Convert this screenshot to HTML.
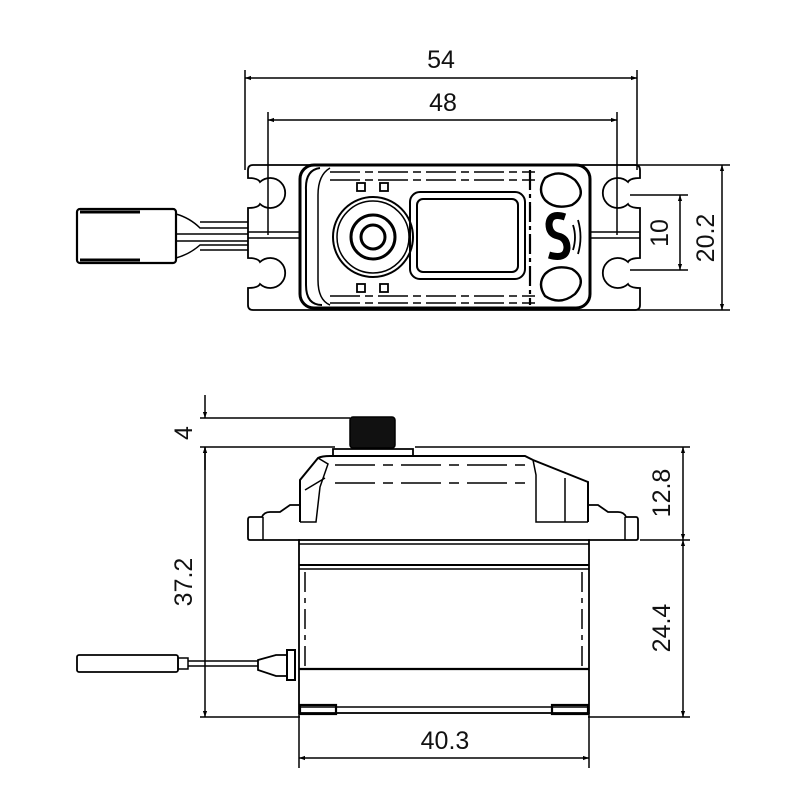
<!DOCTYPE html>
<html><head><style>html,body{margin:0;padding:0;background:#fff}svg{display:block}</style></head><body>
<svg width="800" height="800" viewBox="0 0 800 800" xmlns="http://www.w3.org/2000/svg" font-family="Liberation Sans, sans-serif">
<defs>
<marker id="a" viewBox="0 0 10 10" refX="10" refY="5" markerWidth="11" markerHeight="6" orient="auto-start-reverse" markerUnits="userSpaceOnUse"><path d="M0,1.5 L10,5 L0,8.5z" fill="#000"/></marker>
</defs>
<g fill="none" stroke="#000" stroke-width="1.5">
<line x1="245" y1="70" x2="245" y2="170"/><line x1="637" y1="70" x2="637" y2="170"/>
<line x1="245" y1="78" x2="637" y2="78" marker-start="url(#a)" marker-end="url(#a)"/>
<line x1="268" y1="112" x2="268" y2="235"/><line x1="617" y1="112" x2="617" y2="235"/>
<line x1="268" y1="120" x2="617" y2="120" marker-start="url(#a)" marker-end="url(#a)"/>
<line x1="620" y1="165" x2="730" y2="165"/><line x1="620" y1="310" x2="730" y2="310"/>
<line x1="630" y1="195" x2="688" y2="195"/><line x1="630" y1="270" x2="688" y2="270"/>
<line x1="680" y1="195" x2="680" y2="270" marker-start="url(#a)" marker-end="url(#a)"/>
<line x1="722" y1="165" x2="722" y2="310" marker-start="url(#a)" marker-end="url(#a)"/>

<path d="M253,165 H635 Q640,165 640,170 V178 Q630,178 628,182 A15,15 0 1 0 628,204 Q630,208 640,208 V258 Q630,258 628,262 A15,15 0 1 0 628,284 Q630,288 640,288 V305 Q640,310 635,310 H253 Q248,310 248,305 V288 Q258,288 260,284 A15,15 0 1 0 260,262 Q258,258 248,258 V208 Q258,208 260,204 A15,15 0 1 0 260,182 Q258,178 248,178 V170 Q248,165 253,165Z" stroke-width="1.8"/>
<line x1="248" y1="232" x2="300" y2="232"/><line x1="248" y1="238" x2="300" y2="238"/>
<line x1="590" y1="232" x2="640" y2="232"/><line x1="590" y1="238" x2="640" y2="238"/>
<rect x="300" y="165" width="290" height="143" rx="14" stroke-width="3"/>
<path d="M320,168 Q305,170 306,190 V285 Q306,305 322,305" stroke-width="2"/>
<path d="M330,168 Q318,175 318,195 V280 Q318,300 330,305"/>
<line x1="330" y1="180" x2="535" y2="180" stroke-dasharray="30,5,8,5"/>
<line x1="330" y1="296" x2="535" y2="296" stroke-dasharray="30,5,8,5"/>
<line x1="330" y1="172" x2="535" y2="172" stroke-dasharray="30,5,8,5"/>
<line x1="330" y1="303" x2="535" y2="303" stroke-dasharray="30,5,8,5"/>
<line x1="530" y1="170" x2="530" y2="305" stroke-width="2.2" stroke-dasharray="20,4,4,4"/>
<circle cx="373" cy="237" r="40" stroke-width="2"/>
<circle cx="373" cy="237" r="36"/>
<circle cx="373" cy="237" r="22" stroke-width="3"/>
<circle cx="373" cy="237" r="12" stroke-width="3"/>
<rect x="357" y="183" width="8" height="8" stroke-width="1.8"/><rect x="380" y="183" width="8" height="8" stroke-width="1.8"/>
<rect x="357" y="284" width="8" height="8" stroke-width="1.8"/><rect x="380" y="284" width="8" height="8" stroke-width="1.8"/>
<rect x="410" y="192" width="115" height="87" rx="10" stroke-width="2"/>
<rect x="417" y="199" width="101" height="73" rx="6" stroke-width="2"/>
<path d="M545,178 Q560,168 575,180 Q588,195 572,205 Q555,210 545,200 Q537,190 545,178Z" stroke-width="2.4"/>
<path d="M545,296 Q560,306 575,294 Q588,279 572,269 Q555,264 545,274 Q537,284 545,296Z" stroke-width="2.4"/>
<path d="M565,217 Q550,212 549,224 Q549,234 558,236 Q567,238 567,248 Q566,260 549,255" stroke-width="7"/>
<path d="M573,225 Q577,237 573,250" stroke-width="1.8"/><path d="M578,220 Q583,237 578,254" stroke-width="1.8"/>
<rect x="77" y="209" width="99" height="54" rx="3" stroke-width="2.2"/>
<line x1="80" y1="212" x2="140" y2="212" stroke-width="3"/><line x1="80" y1="260" x2="140" y2="260" stroke-width="3"/>
<path d="M176,214 Q190,218 200,228 H248 M176,258 Q190,254 200,245 H248 M176,234 H248 M176,241 H248"/>
<line x1="200" y1="222" x2="248" y2="222"/><line x1="200" y1="250" x2="248" y2="250"/>

<line x1="200" y1="418" x2="350" y2="418"/>
<line x1="200" y1="447" x2="335" y2="447"/><line x1="415" y1="447" x2="690" y2="447"/>
<line x1="205" y1="395" x2="205" y2="418" marker-end="url(#a)"/>
<line x1="205" y1="470" x2="205" y2="447" marker-end="url(#a)"/>
<line x1="205" y1="447" x2="205" y2="717" marker-start="url(#a)" marker-end="url(#a)"/>
<line x1="200" y1="717" x2="300" y2="717"/><line x1="588" y1="717" x2="690" y2="717"/>
<line x1="640" y1="540" x2="690" y2="540"/>
<line x1="683" y1="447" x2="683" y2="540" marker-start="url(#a)" marker-end="url(#a)"/>
<line x1="683" y1="540" x2="683" y2="717" marker-start="url(#a)" marker-end="url(#a)"/>
<line x1="299" y1="713" x2="299" y2="768"/><line x1="589" y1="713" x2="589" y2="768"/>
<line x1="299" y1="758" x2="589" y2="758" marker-start="url(#a)" marker-end="url(#a)"/>

<rect x="350" y="417" width="45" height="31" rx="3" fill="#111"/>
<path d="M333,455 V449 H413 V455" stroke-width="1.8"/>
<path d="M300,522 V480 L318,458 Q322,456 330,456 H525 L533,460 L588,482 V522" stroke-width="2"/>
<path d="M318,458 L328,464 L320,487 L316,522 H300"/>
<line x1="305" y1="490" x2="325" y2="478"/>
<path d="M533,460 L536,475 V522 H588 M565,478 V522"/>
<line x1="335" y1="465" x2="530" y2="465" stroke-dasharray="40,8,10,8"/>
<line x1="335" y1="483" x2="530" y2="483" stroke-dasharray="40,8,10,8"/>
<path d="M300,505 H290 L280,512 L270,512 Q264,512 262,517 H250 Q248,517 248,520 V538 Q248,540 250,540 H300" stroke-width="1.8"/>
<line x1="263" y1="517" x2="263" y2="540"/>
<path d="M588,505 H598 L608,512 L618,512 Q624,512 626,517 H636 Q638,517 638,520 V538 Q638,540 636,540 H588" stroke-width="1.8"/>
<line x1="625" y1="517" x2="625" y2="540"/>
<rect x="299" y="540" width="290" height="173" stroke-width="1.8"/>
<line x1="299" y1="544" x2="589" y2="544"/>
<line x1="299" y1="565" x2="589" y2="565" stroke-width="2"/>
<line x1="299" y1="569" x2="589" y2="569"/>
<line x1="299" y1="669" x2="589" y2="669" stroke-width="2.2"/>
<line x1="299" y1="707" x2="589" y2="707"/>
<line x1="305" y1="572" x2="305" y2="668" stroke-dasharray="20,6,5,6"/>
<line x1="582" y1="572" x2="582" y2="668" stroke-dasharray="20,6,5,6"/>
<rect x="300" y="705" width="36" height="9" stroke-width="2.2"/>
<rect x="552" y="705" width="36" height="9" stroke-width="2.2"/>
<rect x="77" y="655" width="101" height="17" rx="2" stroke-width="1.8"/>
<rect x="178" y="658" width="10" height="11"/>
<path d="M188,661 H258 M188,666 H258"/>
<path d="M258,660 L276,655 H287 V676 H276 L258,670Z" stroke-width="1.8"/>
<rect x="287" y="650" width="8" height="30" stroke-width="2"/>
</g>
<g font-size="25" fill="#111" text-anchor="middle">
<text x="441" y="68">54</text>
<text x="443" y="111">48</text>
<text transform="translate(668,233) rotate(-90)">10</text>
<text transform="translate(714,238) rotate(-90)">20.2</text>
<text transform="translate(192,433) rotate(-90)">4</text>
<text transform="translate(192,582) rotate(-90)">37.2</text>
<text transform="translate(670,493) rotate(-90)">12.8</text>
<text transform="translate(670,628) rotate(-90)">24.4</text>
<text x="445" y="749">40.3</text>
</g>
</svg>
</body></html>
